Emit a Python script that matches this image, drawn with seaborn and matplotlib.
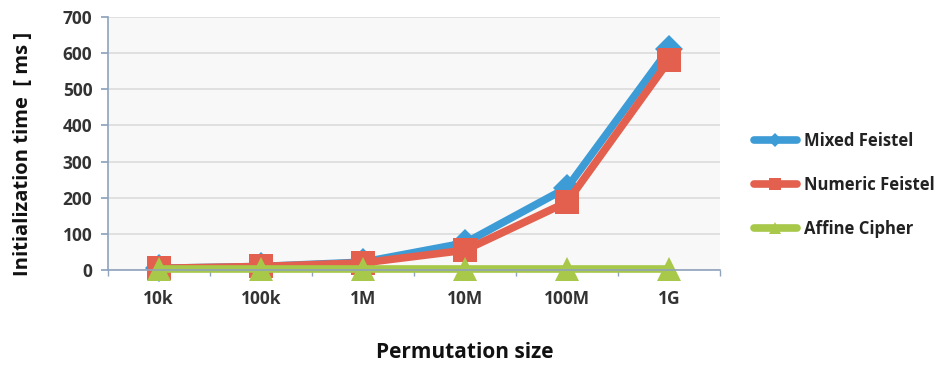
import matplotlib
matplotlib.use("Agg")
import matplotlib.pyplot as plt
import seaborn as sns
import pandas as pd
from matplotlib.ticker import FixedLocator

sizes = ["10k", "100k", "1M", "10M", "100M", "1G"]
mixed_feistel = [5, 10, 22, 75, 228, 612]
numeric_feistel = [5, 10, 20, 55, 188, 580]
affine_cipher = [2, 2, 2, 2, 2, 2]
series_names = ["Mixed Feistel", "Numeric Feistel", "Affine Cipher"]
y_ticks = [0, 100, 200, 300, 400, 500, 600, 700]

colors = ["#3d9bd6", "#e4604e", "#a8c84a"]
markers = ["D", "s", "^"]

sns.set_theme(style="white")
plt.rcParams["font.family"] = ["Open Sans", "DejaVu Sans"]

df = pd.DataFrame({
    "size": sizes * 3,
    "x": list(range(len(sizes))) * 3,
    "value": mixed_feistel + numeric_feistel + affine_cipher,
    "series": [series_names[0]] * 6 + [series_names[1]] * 6 + [series_names[2]] * 6,
})

fig = plt.figure(figsize=(9.44, 3.66), dpi=100)
ax = fig.add_axes([0.114, 0.262, 0.649, 0.692])
ax.set_facecolor("#f8f8f8")

for name, c, m, ms in zip(series_names, colors, markers, [14, 17, 17]):
    sns.lineplot(data=df[df["series"] == name], x="x", y="value", ax=ax,
                 color=c, lw=5.5, marker=m, markersize=ms, markeredgewidth=0,
                 label=name, solid_capstyle="round", clip_on=False)

ax.set_xlim(-0.5, len(sizes) - 0.5)
ax.set_ylim(0, 700)
ax.set_yticks(y_ticks)
ax.set_yticklabels([str(v) for v in y_ticks])
ax.set_xticks(range(len(sizes)))
ax.set_xticklabels(sizes)
ax.xaxis.set_minor_locator(FixedLocator([i - 0.5 for i in range(len(sizes) + 1)]))
ax.grid(axis="y", color="#dcdcdc", lw=1.2)
ax.set_axisbelow(True)

for s in ["top", "right"]:
    ax.spines[s].set_visible(False)
for s in ["left", "bottom"]:
    ax.spines[s].set_color("#8fa3bb")
    ax.spines[s].set_linewidth(1.2)

ax.tick_params(axis="y", which="major", direction="out", length=5, color="#8fa3bb",
               labelsize=12.5, labelcolor="#333333", pad=6, left=True)
ax.tick_params(axis="x", which="major", length=0, labelsize=12.5, labelcolor="#333333", pad=14)
ax.tick_params(axis="x", which="minor", direction="out", length=4, color="#8fa3bb", bottom=True)
for lab in ax.get_xticklabels() + ax.get_yticklabels():
    lab.set_fontweight("bold")

ax.set_xlabel("Permutation size", fontsize=15, fontweight="bold", color="#111111")
ax.xaxis.set_label_coords(0.583, -0.285)
ax.set_ylabel("Initialization time  [ ms ]", fontsize=14.5, fontweight="bold", color="#111111")
ax.yaxis.set_label_coords(-0.122, 0.46)

leg = ax.legend(loc="center left", bbox_to_anchor=(1.03, 0.336), frameon=False,
                fontsize=12, handlelength=2.6, labelspacing=1.55, handletextpad=0.4,
                markerscale=0.5)
for t in leg.get_texts():
    t.set_color("#222222")
    t.set_fontweight("bold")

fig.savefig("out.png", dpi=100)
